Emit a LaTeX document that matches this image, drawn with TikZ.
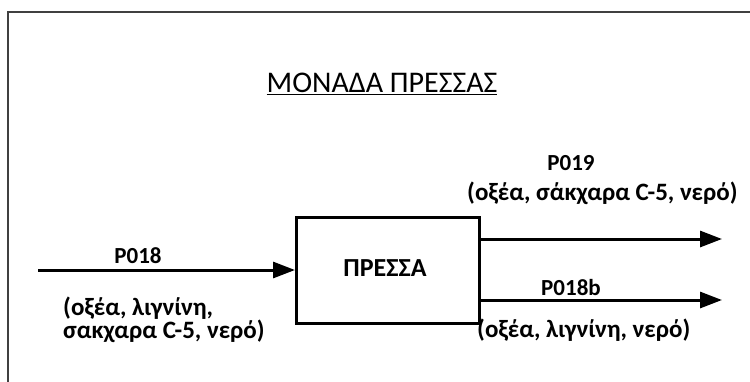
\documentclass[tikz,border=0pt]{standalone}
\usepackage{fontspec}
\setmainfont{Carlito}
\usetikzlibrary{arrows.meta}
\begin{document}
\begin{tikzpicture}[x=1pt,y=-1pt,
  flow/.style={line width=3pt,-{Triangle[length=22pt,width=16pt]}},
  lbl/.style={font=\fontsize{23}{27}\selectfont\bfseries,inner sep=0pt},
  sub/.style={font=\fontsize{25}{29}\selectfont\bfseries,inner sep=0pt,align=left}]
\useasboundingbox (0,0) rectangle (750,381);
\draw[line width=2.5pt,draw=black!75] (8,400) -- (8,12) -- (760,12);
\node[inner sep=0pt,font=\fontsize{30}{34}\selectfont] (title) at (382,84) {\underline{ΜΟΝΑΔΑ ΠΡΕΣΣΑΣ}};
\node[draw,line width=3pt,minimum width=183pt,minimum height=106pt,inner sep=0pt,anchor=north west] (press) at (295,216) {};
\node[inner sep=0pt,font=\fontsize{26}{30}\selectfont\bfseries] (ptext) at (385,268) {ΠΡΕΣΣΑ};
\coordinate (in) at (38,270);
\coordinate (o1) at (722,239);
\coordinate (o2) at (722,300);
\draw[flow] (in) -- (in -| press.west);
\draw[flow] (o1 -| press.east) -- (o1);
\draw[flow] (o2 -| press.east) -- (o2);
\node[lbl] (p018) at (138,256) {P018};
\node[sub,anchor=west] (s1) at (63,308) {(οξέα, λιγνίνη,};
\node[sub,anchor=west] (s2) at (63,331) {σακχαρα C-5, νερό)};
\node[lbl] (p019) at (571,163) {P019};
\node[sub,anchor=west] (s3) at (467,193) {(οξέα, σάκχαρα C-5, νερό)};
\node[lbl] (p018b) at (571,288) {P018b};
\node[sub,anchor=west] (s4) at (477,330) {(οξέα, λιγνίνη, νερό)};
\end{tikzpicture}
\end{document}
